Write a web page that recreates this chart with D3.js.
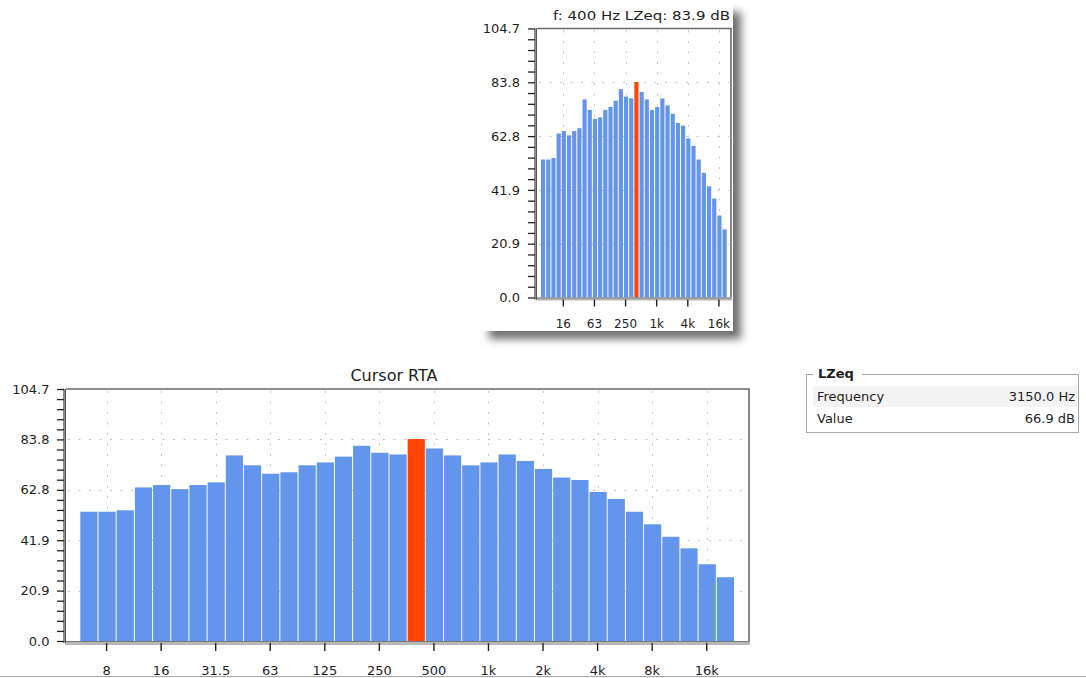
<!DOCTYPE html>
<html><head><meta charset="utf-8">
<script src="https://cdn.jsdelivr.net/npm/d3@7"></script>
<style>
html,body{margin:0;padding:0;background:#fff;}
svg{display:block;font-family:"DejaVu Sans",sans-serif;}
</style></head><body>
<svg id="c" width="1086" height="678"></svg>
<script>
// ---------- data ----------
const freqs = ["6.3","8","10","12.5","16","20","25","31.5","40","50","63","80","100","125","160","200","250","315","400","500","630","800","1k","1.25k","1.6k","2k","2.5k","3.15k","4k","5k","6.3k","8k","10k","12.5k","16k","20k"];
const levels = [53.7,53.7,54.3,63.8,64.8,63.1,64.8,65.9,77.1,73.0,69.5,70.1,73.0,74.2,76.6,81.1,78.2,77.5,83.9,80.0,77.1,73.0,74.2,77.5,74.8,71.5,67.9,66.9,61.9,59.0,53.7,48.5,43.3,38.5,31.9,26.5];
const cursorFreq = "400";
const bottomTickLabels = ["8","16","31.5","63","125","250","500","1k","2k","4k","8k","16k"];
const topTickLabels = ["16","63","250","1k","4k","16k"];
const yMax = 104.7;
const yDivisions = 5;
const yMinorPerDivision = 5;
const chartTitle = "Cursor RTA";
const miniTitle = "f: 400 Hz LZeq: 83.9 dB";
const legendTitle = "LZeq";
const legendRows = ["Frequency","Value"];
const legendValues = ["3150.0 Hz","66.9 dB"];

// ---------- drawing ----------
const svg = d3.select("#c");
const defs = svg.append("defs");
defs.append("filter").attr("id","blur").attr("x","-20%").attr("y","-20%").attr("width","140%").attr("height","140%")
  .append("feGaussianBlur").attr("stdDeviation",4);

const BLUE = "#6495ED", RED = "#FF4500", TXT = "#1e1e1e", GRID = "#c4c4c4";

function drawChart(g, c) {
  const y = d3.scaleLinear().domain([0, yMax]).range([c.bottom, c.top]);
  const xb = d3.scaleBand().domain(freqs).range([c.barStart, c.barEnd]).padding(0);
  const bw = xb.bandwidth();
  const majors = d3.range(0, yDivisions + 1).map(i => yMax * i / yDivisions);
  const minors = d3.range(0, yDivisions * yMinorPerDivision + 1).map(i => yMax * i / (yDivisions * yMinorPerDivision));

  // grid
  const grid = g.append("g").attr("stroke", GRID).attr("stroke-width", 1).attr("stroke-dasharray", "2,8.5");
  grid.selectAll("line.h").data(majors.slice(1, -1)).join("line")
    .attr("x1", c.left + 2).attr("x2", c.right - 2)
    .attr("y1", d => Math.round(y(d)) + 0.5).attr("y2", d => Math.round(y(d)) + 0.5);
  grid.selectAll("line.v").data(c.ticks).join("line")
    .attr("x1", d => Math.round(xb(d) + bw / 2) + 0.5).attr("x2", d => Math.round(xb(d) + bw / 2) + 0.5)
    .attr("y1", c.top + 2).attr("y2", c.bottom);

  // bars
  g.append("g").selectAll("rect").data(freqs).join("rect")
    .attr("x", d => xb(d) + 1)
    .attr("width", bw - 1)
    .attr("y", (d, i) => y(levels[i]))
    .attr("height", (d, i) => y(0) - y(levels[i]))
    .attr("fill", d => d === cursorFreq ? RED : BLUE);

  // frame top/right
  g.append("path")
    .attr("d", `M${c.left},${c.top}H${c.right}V${c.bottom}`)
    .attr("fill", "none").attr("stroke", "#6a6a6a").attr("stroke-width", 1.6);

  // bottom axis bar
  g.append("rect").attr("x", c.left - 1).attr("y", c.bottom).attr("width", c.right - c.left + 2).attr("height", c.barH)
    .attr("fill", "#b8b8b8");
  g.append("line").attr("x1", c.left).attr("x2", c.right).attr("y1", c.bottom + 0.5).attr("y2", c.bottom + 0.5)
    .attr("stroke", "#7a7a7a");
  // left axis bar
  g.append("rect").attr("x", c.left - 3).attr("y", c.top).attr("width", 3).attr("height", c.bottom - c.top + 2)
    .attr("fill", "#8c8c8c");
  g.append("line").attr("x1", c.left - 0.5).attr("x2", c.left - 0.5).attr("y1", c.top).attr("y2", c.bottom + 2)
    .attr("stroke", "#555");

  // y axis via d3
  const yAxis = d3.axisLeft(y).tickValues(minors).tickSize(c.yTickLen).tickPadding(c.yPad)
    .tickFormat(d => majors.some(m => Math.abs(m - d) < 1e-6) ? d3.format(".1f")(d) : "");
  const ya = g.append("g").attr("transform", `translate(${c.left - 2},0)`).call(yAxis);
  ya.select(".domain").remove();
  ya.selectAll(".tick line").attr("stroke", "#222").attr("stroke-width", 1.3);
  ya.selectAll(".tick text").attr("fill", TXT).attr("font-size", c.yFont).attr("font-family", "DejaVu Sans");

  // x axis via d3
  const xAxis = d3.axisBottom(xb).tickValues(c.ticks).tickSize(c.xTickLen).tickPadding(0);
  const xa = g.append("g").attr("transform", `translate(0,${c.bottom + 2})`).call(xAxis);
  xa.select(".domain").remove();
  xa.selectAll(".tick line").attr("stroke", "#222").attr("stroke-width", 1.4);
  xa.selectAll(".tick text").attr("fill", TXT).attr("font-size", c.xFont).attr("font-family", "DejaVu Sans")
    .attr("dy", null).attr("y", c.xLabelBaseline - c.bottom - 2);
}

// ---------- mini chart panel with shadow ----------
svg.append("rect").attr("x", 489).attr("y", 12).attr("width", 252).attr("height", 327)
  .attr("fill", "#6e6e6e").attr("filter", "url(#blur)");
svg.append("rect").attr("x", 470).attr("y", -2).attr("width", 263).attr("height", 333).attr("fill", "#fff");

const gTop = svg.append("g");
drawChart(gTop, {left: 537, top: 28.5, right: 731, bottom: 297.5, barStart: 540, barEnd: 726.7,
  ticks: topTickLabels, yTickLen: 7, yPad: 8, yFont: 13, xTickLen: 7, xFont: 12, xLabelBaseline: 328, barH: 3});
gTop.append("text").attr("x", 553).attr("y", 20).attr("font-size", 13).attr("fill", TXT)
  .attr("textLength", 177).attr("lengthAdjust", "spacingAndGlyphs").text(miniTitle);

// ---------- main chart ----------
const gMain = svg.append("g");
drawChart(gMain, {left: 66, top: 389, right: 749, bottom: 641, barStart: 79.3, barEnd: 734,
  ticks: bottomTickLabels, yTickLen: 7, yPad: 7.5, yFont: 13, xTickLen: 8, xFont: 13, xLabelBaseline: 675, barH: 4});
gMain.append("text").attr("x", 394).attr("y", 380.5).attr("text-anchor", "middle")
  .attr("font-size", 16).attr("fill", TXT).text(chartTitle);

// bottom border line
svg.append("line").attr("x1", 0).attr("x2", 1086).attr("y1", 676.5).attr("y2", 676.5).attr("stroke", "#a8a8a8");

// ---------- legend box ----------
const lg = svg.append("g").attr("font-family", "DejaVu Sans").attr("font-size", 13).attr("fill", TXT);
lg.append("rect").attr("x", 806.5).attr("y", 374.5).attr("width", 272).attr("height", 58)
  .attr("fill", "#fff").attr("stroke", "#a9a9a9");
lg.append("rect").attr("x", 813).attr("y", 370).attr("width", 49).attr("height", 8).attr("fill", "#fff");
lg.append("text").attr("x", 818).attr("y", 377.5).attr("font-weight", "bold").text(legendTitle);
lg.append("rect").attr("x", 813).attr("y", 386).attr("width", 264).attr("height", 21).attr("fill", "#f3f3f3");
legendRows.forEach((r, i) => {
  lg.append("text").attr("x", 817).attr("y", 401 + i * 21.5).text(r);
  lg.append("text").attr("x", 1075).attr("y", 401 + i * 21.5).attr("text-anchor", "end").text(legendValues[i]);
});
</script>
</body></html>
